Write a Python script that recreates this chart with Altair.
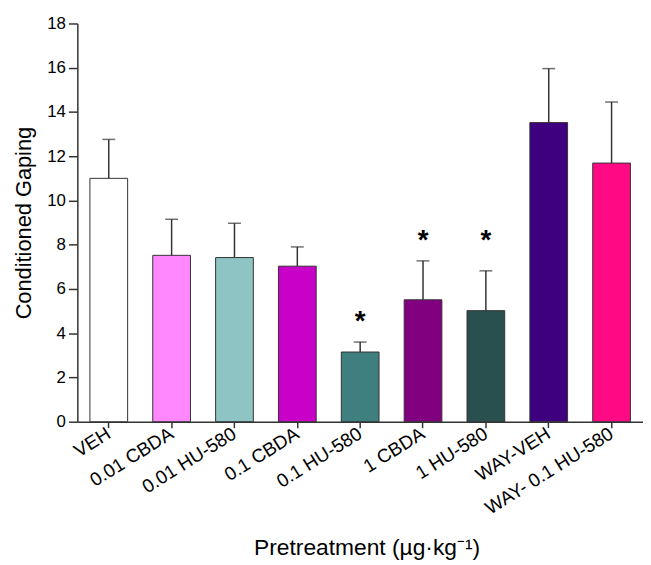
import altair as alt
import pandas as pd

groups = ["VEH", "0.01 CBDA", "0.01 HU-580", "0.1 CBDA", "0.1 HU-580",
          "1 CBDA", "1 HU-580", "WAY-VEH", "WAY- 0.1 HU-580"]
means = [11.0, 7.52, 7.42, 7.03, 3.15, 5.51, 5.02, 13.52, 11.69]
uppers = [12.76, 9.15, 8.97, 7.9, 3.6, 7.27, 6.82, 15.96, 14.45]
colors = ["#FFFFFF", "#FF88FF", "#8EC4C4", "#C800C8", "#407F7F",
          "#800080", "#2A4F4F", "#3F007F", "#FF0A85"]
star_groups = ["0.1 HU-580", "1 CBDA", "1 HU-580"]
star_y = [4.76, 8.42, 8.42]

df = pd.DataFrame({"group": groups, "mean": means, "upper": uppers, "color": colors})
sdf = pd.DataFrame({"group": star_groups, "y": star_y, "t": ["*"] * 3})

font = "Liberation Sans"
xscale = alt.Scale(domain=groups, paddingInner=0.4, paddingOuter=0.2)
yscale = alt.Scale(domain=[0, 18], nice=False)

x = alt.X("group:N", scale=xscale, sort=groups,
          axis=alt.Axis(title="Pretreatment (µg·kg⁻¹)", labelAngle=328,
                        labelFontSize=19, labelFont=font, labelColor="#000",
                        labelPadding=4, tickSize=6, tickColor="#333",
                        domainColor="#333", titleFont=font, titleFontSize=23,
                        titleFontWeight="normal", titleColor="#000",
                        titleY=134, titleX=292, titleBaseline="alphabetic"))
y = alt.Y("mean:Q", scale=yscale,
          axis=alt.Axis(title="Conditioned Gaping", values=list(range(0, 19, 2)),
                        labelFontSize=17, labelFont=font, labelColor="#000",
                        tickSize=9, tickColor="#333", domainColor="#333",
                        grid=False, titleFont=font, titleFontSize=22,
                        titleFontWeight="normal", titleColor="#000",
                        titlePadding=11, labelPadding=3))

err = alt.Chart(df).mark_rule(color="#333", strokeWidth=1.5).encode(
    x=alt.X("group:N", scale=xscale, sort=groups),
    y=alt.Y("mean:Q", scale=yscale), y2="upper:Q")
cap = alt.Chart(df).mark_tick(color="#333", thickness=1.5, size=13, orient="horizontal").encode(
    x=alt.X("group:N", scale=xscale, sort=groups),
    y=alt.Y("upper:Q", scale=yscale))
bars = alt.Chart(df).mark_bar(stroke="#333", strokeWidth=1).encode(
    x=x, y=y, color=alt.Color("color:N", scale=None))
stars = alt.Chart(sdf).mark_text(fontSize=28, font=font, fontWeight="bold",
                                 baseline="alphabetic", dy=14, color="#000").encode(
    x=alt.X("group:N", scale=xscale, sort=groups),
    y=alt.Y("y:Q", scale=yscale), text="t:N")

chart = alt.layer(err, cap, bars, stars).properties(
    width=571, height=402,
    autosize=alt.AutoSizeParams(type="none"),
    padding={"left": 70, "top": 13, "right": 0, "bottom": 140},
).configure_view(stroke=None).configure_axis(domainWidth=1.5, tickWidth=1.5)

chart.save("out.html", embed_options={"renderer": "svg", "actions": False})
